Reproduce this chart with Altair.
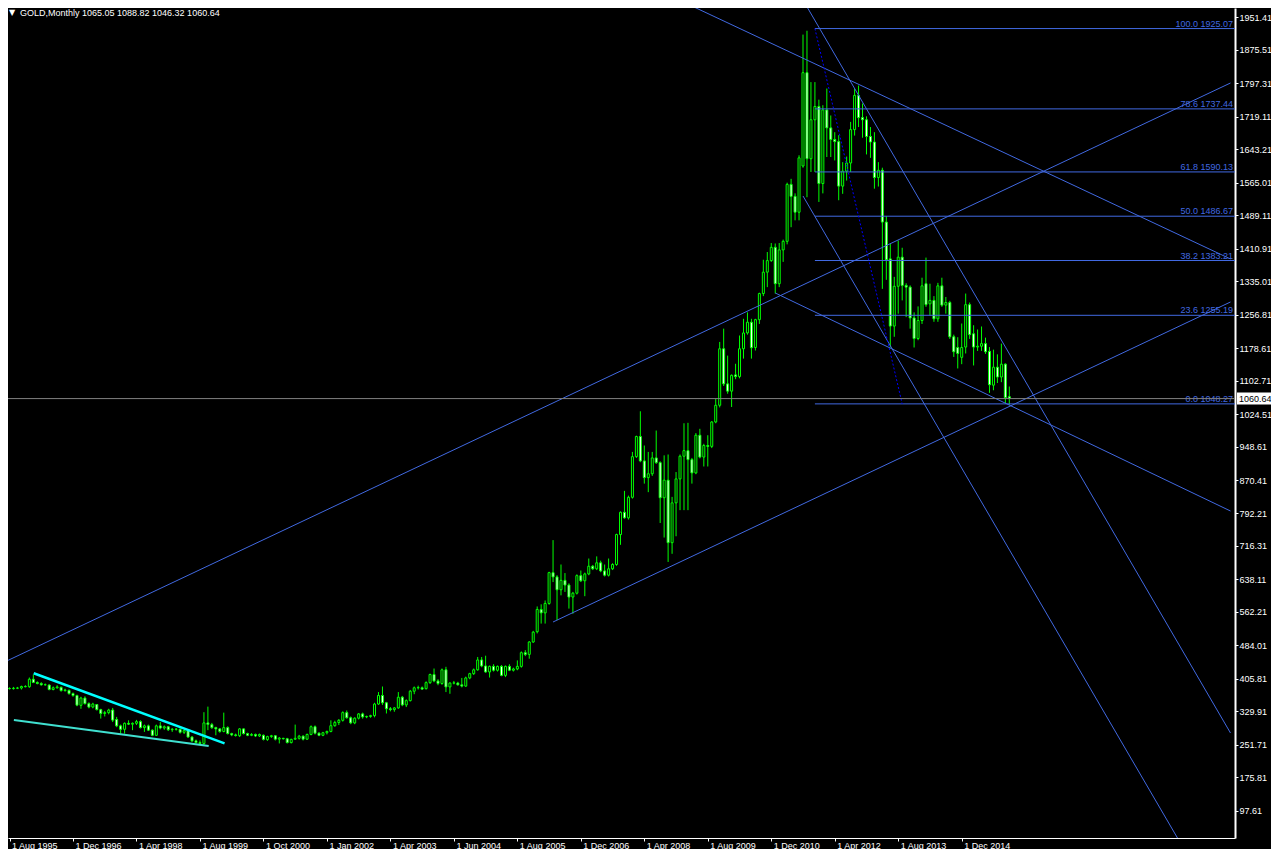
import altair as alt
import pandas as pd

# ---------------- data ----------------
HEADER = "GOLD,Monthly  1065.05 1088.82 1046.32 1060.64"

OPEN = [383.5, 383, 384, 384.5, 388, 387.5, 405, 397.5, 395, 392,
        391.5, 381, 385, 386, 378.5, 379, 371.5, 367, 344, 361,
        348, 340, 346, 334, 325, 327, 333, 311, 296, 288,
        302, 300, 302, 306, 292, 296, 286, 274, 296, 291,
        294, 287, 288, 288, 281, 285, 270, 261, 257, 255,
        303, 299, 292, 289, 283, 292, 278, 275, 273, 289,
        278, 274, 276, 272.5, 274, 264, 271, 273, 265, 267,
        266, 257, 265, 267, 272, 265, 276, 294, 279, 274,
        280, 283, 296.5, 304, 309, 327, 315, 303, 314, 324,
        317, 318, 320, 347, 367, 350, 336, 334, 338, 363,
        345, 355, 377, 385, 385, 383, 397, 416, 401, 395,
        427, 387, 396, 396, 392, 389, 408, 418, 427, 450,
        436, 422, 435, 426, 435, 414, 435, 426, 429, 435,
        467, 463, 492, 516, 568, 560, 582, 654, 644, 614,
        636, 625, 597, 606, 647, 635, 651, 669, 663, 677,
        658, 648, 663, 673, 743, 795, 782, 830, 925, 972,
        915, 876, 885, 922, 911, 829, 870, 724, 817, 873,
        926, 939, 918, 887, 975, 924, 951, 949, 1006, 1045,
        1177, 1095, 1078, 1116, 1112, 1177, 1214, 1239, 1180, 1245,
        1306, 1356, 1383, 1414, 1329, 1408, 1428, 1561, 1533, 1496,
        1604, 1822, 1621, 1712, 1743, 1563, 1735, 1693, 1666, 1661,
        1557, 1592, 1611, 1689, 1769, 1717, 1712, 1673, 1660, 1577,
        1594, 1473, 1387, 1230, 1323, 1391, 1325, 1321, 1249, 1201,
        1243, 1329, 1282, 1290, 1247, 1324, 1279, 1285, 1205, 1180,
        1157, 1181, 1280, 1212, 1181, 1183, 1189, 1171, 1092, 1134,
        1111, 1141, 1065.05]

HIGH = [386, 387, 387, 390, 391, 409, 416, 400, 398, 395,
        393, 388, 391, 388, 383, 381, 374, 369, 364, 365,
        351, 350, 347, 336, 331, 336, 338, 317, 299, 304,
        309, 304, 310, 309, 299, 299, 288, 299, 305, 297,
        296, 291, 291, 290, 287, 287, 272, 264, 262, 328,
        341, 303, 294, 291, 327, 295, 280, 278, 291, 290,
        280, 279, 278, 278, 276, 273, 275, 274, 270, 268,
        268, 266, 299, 275, 274, 278, 297, 297, 281, 282,
        285, 309, 308, 312, 330, 332, 318, 316, 326, 327,
        320, 322, 350, 375, 388, 352, 340, 340, 375, 366,
        358, 380, 388, 390, 388, 400, 418, 430, 405, 430,
        434, 398, 401, 399, 408, 411, 420, 430, 457, 457,
        460, 437, 440, 437, 438, 437, 440, 432, 449, 470,
        473, 494, 518, 575, 580, 589, 656, 730, 648, 673,
        653, 629, 609, 650, 659, 654, 687, 672, 692, 682,
        673, 687, 676, 745, 797, 845, 834, 936, 974, 1031,
        951, 936, 936, 986, 914, 928, 930, 831, 889, 930,
        1003, 1004, 922, 980, 990, 955, 975, 1008, 1060, 1193,
        1224, 1161, 1117, 1142, 1208, 1247, 1262, 1247, 1247, 1308,
        1385, 1403, 1424, 1423, 1424, 1432, 1565, 1574, 1540, 1629,
        1911, 1920, 1800, 1800, 1759, 1746, 1785, 1722, 1683, 1676,
        1613, 1626, 1707, 1785, 1792, 1750, 1720, 1695, 1683, 1613,
        1600, 1487, 1422, 1345, 1430, 1413, 1330, 1325, 1262, 1276,
        1343, 1390, 1329, 1300, 1331, 1343, 1298, 1289, 1210, 1204,
        1236, 1306, 1285, 1232, 1222, 1229, 1203, 1181, 1175, 1164,
        1189, 1143, 1088.82]

LOW = [381, 381, 382, 381, 386, 385, 396, 393, 390, 390,
       379, 379, 383, 376, 376, 369, 364, 342, 336, 346,
       337, 337, 332, 313, 318, 323, 305, 293, 278, 278,
       298, 286, 298, 290, 282, 284, 272, 273, 288, 287,
       284, 282, 285, 278, 277, 268, 258, 255, 252, 252,
       286, 289, 274, 280, 281, 276, 272, 271, 270, 276,
       272, 272, 270, 270, 262, 261, 268, 262, 255, 264,
       255, 255, 263, 264, 262, 263, 274, 276, 272, 272,
       276, 281, 294, 298, 306, 313, 300, 300, 311, 313,
       314, 315, 316, 345, 345, 325, 330, 329, 336, 342,
       340, 353, 370, 381, 380, 381, 394, 398, 391, 392,
       375, 371, 393, 390, 386, 387, 405, 415, 425, 433,
       420, 409, 423, 423, 412, 410, 424, 423, 426, 432,
       459, 453, 490, 512, 535, 535, 579, 632, 543, 601,
       609, 570, 558, 603, 632, 599, 648, 660, 660, 655,
       645, 645, 660, 670, 719, 780, 778, 827, 922, 912,
       862, 842, 880, 908, 770, 736, 679, 698, 739, 800,
       800, 800, 862, 884, 921, 902, 902, 945, 1003, 1040,
       1090, 1072, 1041, 1106, 1108, 1154, 1210, 1154, 1173, 1235,
       1300, 1321, 1380, 1306, 1321, 1380, 1421, 1461, 1477, 1477,
       1600, 1531, 1590, 1590, 1520, 1540, 1625, 1625, 1617, 1524,
       1539, 1570, 1590, 1675, 1695, 1670, 1631, 1623, 1551, 1556,
       1317, 1338, 1180, 1205, 1259, 1290, 1251, 1224, 1180, 1197,
       1235, 1275, 1255, 1240, 1240, 1275, 1259, 1200, 1158, 1131,
       1141, 1166, 1200, 1138, 1172, 1172, 1165, 1074, 1080, 1097,
       1099, 1049, 1046.32]

CLOSE = [383, 384, 384.5, 388, 387.5, 405, 397.5, 395, 392, 392.3,
         381, 385, 387, 378.5, 380, 371.5, 367, 344.5, 361, 348,
         340, 347, 334, 325, 327, 333, 309.5, 296, 288, 302,
         300, 302, 306, 292, 296, 286, 274, 296, 291, 294,
         287, 288, 288.5, 281, 285, 270, 261, 257, 255, 303,
         299.5, 292, 289, 283, 292, 278, 275, 273.5, 289, 278,
         274, 276, 272.5, 276, 264.5, 271, 273, 265, 267.5, 266,
         257, 264.5, 267, 272, 265, 276, 294, 279, 274, 280,
         283, 296.5, 304, 309, 327, 315, 303, 314, 324, 317,
         318, 320, 347, 367, 350, 336, 334, 338, 363, 345,
         355, 377, 385, 385.5, 382, 397, 416, 401, 395, 427,
         387, 396, 396.5, 392, 389, 408, 418, 427, 450, 436,
         422, 435, 426, 435, 414, 435, 426, 429, 435, 467,
         463, 492, 515, 568, 560, 582, 654, 644, 614, 636,
         625, 597, 606, 647, 635, 651, 669, 663, 677, 658,
         648, 663, 673, 743, 795, 782, 830, 925, 972, 915,
         876, 885, 922, 911, 829, 870, 724, 817, 873, 926,
         939, 918, 887, 975, 924, 951, 949, 1006, 1045, 1177,
         1095, 1078, 1115, 1112, 1177, 1214, 1239, 1179.5, 1245, 1306,
         1356, 1383, 1414, 1329, 1408, 1428, 1561, 1533, 1496, 1623,
         1822, 1621, 1712, 1743, 1563, 1735, 1693, 1666, 1661, 1557,
         1592, 1611, 1689, 1769, 1717, 1712, 1673, 1660, 1577, 1594,
         1473, 1385, 1230, 1323, 1391, 1325, 1321, 1249, 1201, 1243,
         1324, 1280, 1290, 1247, 1324, 1279, 1285, 1205, 1170, 1166,
         1180, 1280, 1210, 1181, 1183, 1189, 1170, 1093, 1134, 1111,
         1141, 1063, 1060.64]

X_TICKS = [0, 16, 32, 48, 64, 80, 96, 112, 128, 144, 160, 176, 192, 208, 224, 240]
X_LABELS = ["1 Aug 1995", "1 Dec 1996", "1 Apr 1998", "1 Aug 1999", "1 Oct 2000",
            "1 Jan 2002", "1 Apr 2003", "1 Jun 2004", "1 Aug 2005", "1 Dec 2006",
            "1 Apr 2008", "1 Aug 2009", "1 Dec 2010", "1 Apr 2012", "1 Aug 2013",
            "1 Dec 2014"]
Y_TICKS = [97.61, 175.81, 251.71, 329.91, 405.81, 484.01, 562.21, 638.11,
           716.31, 792.21, 870.41, 948.61, 1024.51, 1102.71, 1178.61, 1256.81,
           1335.01, 1410.91, 1489.11, 1565.01, 1643.21, 1719.11, 1797.31,
           1875.51, 1951.41]

FIB_LEVELS = ["100.0", "78.6", "61.8", "50.0", "38.2", "23.6", "0.0"]
FIB_PRICES = [1925.07, 1737.44, 1590.13, 1486.67, 1383.21, 1255.19, 1048.27]
FIB_BAR_FROM = 203
FIB_BAR_TO = 225

# blue trend lines: (bar, price) -> (bar, price)
TL_BAR1 = [-1.25, 137, 200, 200, 168.75, 193]
TL_P1 = [445.3, 538.7, 1991.8, 1533.9, 1991.8, 1307.3]
TL_BAR2 = [307.75, 307.75, 307.75, 297, 307.75, 307.75]
TL_P2 = [1797.9, 1286.3, 279.4, -7.4, 1386.8, 798.0]

# cyan wedge lines (1995-1999)
WEDGE_UP = {"b1": [6.1], "p1": [418.9], "b2": [54.2], "p2": [255.3]}
WEDGE_DN = {"b1": [1.1], "p1": [309.8], "b2": [50.2], "p2": [249.0]}

LAST_PRICE = 1060.64

# ---------------- layout / style ----------------
W, H = 1227, 830
X_DOMAIN = [0.875, 307.625]
Y_DOMAIN = [34.09, 1973.1]
FONT = "Liberation Sans"
LIME = "#00FF00"
BLUE = "#4169E1"

xs = alt.Scale(domain=X_DOMAIN, nice=False, zero=False)
ys = alt.Scale(domain=Y_DOMAIN, nice=False, zero=False)

label_expr = "[" + ",".join("'%s'" % s for s in X_LABELS) + "][round(datum.value/16)]"
xaxis = alt.Axis(orient="bottom", values=X_TICKS, labelExpr=label_expr, title=None,
                 grid=False, domainColor="white", domainWidth=1, tickColor="white",
                 tickSize=3, labelColor="white", labelFont=FONT, labelFontSize=9,
                 labelAlign="left", labelBaseline="top", labelPadding=0,
                 labelOffset=2, labelOverlap=False, labelFlush=False)
yaxis = alt.Axis(orient="right", values=Y_TICKS, format=".2f", title=None, grid=False,
                 domainColor="white", domainWidth=2, tickColor="white", tickSize=3,
                 labelColor="white", labelFont=FONT, labelFontSize=9, labelPadding=1,
                 labelOverlap=False, labelFlush=False)


def X(f):
    return alt.X(f, type="quantitative", scale=xs, axis=xaxis)


def Y(f):
    return alt.Y(f, type="quantitative", scale=ys, axis=yaxis)


candles = pd.DataFrame({"i": list(range(len(OPEN))), "o": OPEN, "h": HIGH,
                        "l": LOW, "c": CLOSE})
base = alt.Chart(candles)
wicks = base.mark_rule(color=LIME, strokeWidth=1).encode(x=X("i"), y=Y("l"), y2="h")
bodies = base.mark_bar(size=2, stroke=LIME, strokeWidth=1).encode(
    x=X("i"), y=Y("o"), y2="c",
    fill=alt.condition("datum.c < datum.o", alt.value("white"), alt.value("black")))

tl = pd.DataFrame({"b1": TL_BAR1, "p1": TL_P1, "b2": TL_BAR2, "p2": TL_P2})
trend = alt.Chart(tl).mark_rule(color=BLUE, strokeWidth=1, clip=True).encode(
    x=X("b1"), y=Y("p1"), x2="b2", y2="p2")

w_up = alt.Chart(pd.DataFrame(WEDGE_UP)).mark_rule(color="#00FFFF", strokeWidth=2.5, clip=True).encode(
    x=X("b1"), y=Y("p1"), x2="b2", y2="p2")
w_dn = alt.Chart(pd.DataFrame(WEDGE_DN)).mark_rule(color="#40E0D0", strokeWidth=2, clip=True).encode(
    x=X("b1"), y=Y("p1"), x2="b2", y2="p2")

fib = pd.DataFrame({"lvl": FIB_LEVELS, "p": FIB_PRICES,
                    "b": [FIB_BAR_FROM] * len(FIB_PRICES)})
fib["txt"] = [("%s  %.2f" if l == "50.0" else "%s %.2f") % (l, p)
              for l, p in zip(FIB_LEVELS, FIB_PRICES)]
fib_lines = alt.Chart(fib).mark_rule(color=BLUE, strokeWidth=1).encode(
    x=X("b"), x2=alt.value(W), y=Y("p"))
fib_text = alt.Chart(fib).mark_text(color=BLUE, font=FONT, fontSize=9, align="right",
                                    baseline="alphabetic", dy=-2).encode(
    x=alt.value(W - 2), y=Y("p"), text="txt:N")
fib_base = alt.Chart(pd.DataFrame({"b1": [FIB_BAR_FROM], "p1": [FIB_PRICES[0]],
                                   "b2": [FIB_BAR_TO], "p2": [FIB_PRICES[-1]]})).mark_rule(
    color="#0000FF", strokeWidth=1, strokeDash=[2, 2]).encode(
    x=X("b1"), y=Y("p1"), x2="b2", y2="p2")

last = pd.DataFrame({"p": [LAST_PRICE], "t": ["%.2f" % LAST_PRICE]})
price_line = alt.Chart(last).mark_rule(color="#808080", strokeWidth=1).encode(y=Y("p"))
price_box = alt.Chart(last).mark_point(
    shape="M-1,-0.353H1V0.353H-1Z", size=1156, filled=True, fill="white",
    opacity=1, strokeWidth=0).encode(x=alt.value(W + 19), y=Y("p"))
price_txt = alt.Chart(last).mark_text(color="black", font=FONT, fontSize=9,
                                      align="left", baseline="middle").encode(
    x=alt.value(W + 4), y=Y("p"), text="t:N")

hdr = pd.DataFrame({"t": [HEADER], "tri": ["\u25BC"]})
hdr_tri = alt.Chart(hdr).mark_text(color="white", font="DejaVu Sans", fontSize=8,
                                   align="left", baseline="top").encode(
    x=alt.value(1), y=alt.value(1), text="tri:N")
hdr_txt = alt.Chart(hdr).mark_text(color="white", font=FONT, fontSize=9,
                                   align="left", baseline="top").encode(
    x=alt.value(12), y=alt.value(1), text="t:N")

chart = alt.layer(
    wicks, bodies, w_up, w_dn, trend, fib_lines, fib_base, fib_text,
    price_line, price_box, price_txt, hdr_tri, hdr_txt
).properties(
    width=W, height=H, background="black",
    padding={"left": 0, "top": 0, "right": 36, "bottom": 11},
    autosize=alt.AutoSizeParams(type="none"),
).configure_view(strokeWidth=0, fill="black")

chart.save("out.html", embed_options={"renderer": "svg", "actions": False})
